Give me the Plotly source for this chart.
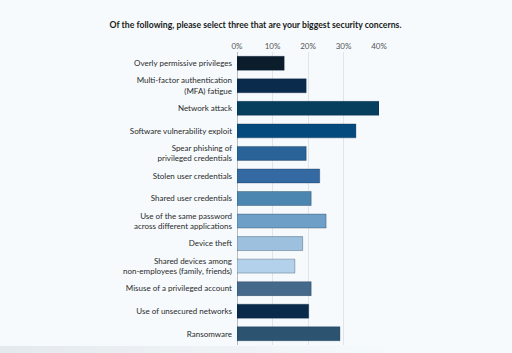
import plotly.graph_objects as go

categories = [
    "Overly permissive privileges",
    "Multi-factor authentication<br>(MFA) fatigue",
    "Network attack",
    "Software vulnerability exploit",
    "Spear phishing of<br>privileged credentials",
    "Stolen user credentials",
    "Shared user credentials",
    "Use of the same password<br>across different applications",
    "Device theft",
    "Shared devices among<br>non-employees (family, friends)",
    "Misuse of a privileged account",
    "Use of unsecured networks",
    "Ransomware",
]
values = [13.3, 19.5, 40.0, 33.5, 19.5, 23.3, 20.9, 25.1, 18.5, 16.3, 20.9, 20.2, 29.0]
colors = ["#0b1d2b", "#0b2b4d", "#063f5e", "#054a7c", "#2a6398", "#3469a1", "#4a86b0",
          "#6e9fc7", "#9cc0de", "#b3d1ea", "#44698a", "#092a4a", "#2c5471"]
tick_vals = [0, 10, 20, 30, 40]
tick_text = ["0%", "10%", "20%", "30%", "40%"]
title_text = "Of the following, please select three that are your biggest security concerns."

bg = "#f6fafd"

fig = go.Figure(go.Bar(
    x=values, y=categories, orientation="h",
    marker=dict(color=colors, line=dict(width=0.6, color="rgba(0,30,60,0.5)")),
    hoverinfo="x+y",
))

fig.update_layout(
    width=512, height=353,
    margin=dict(l=237, r=133, t=52, b=8),
    paper_bgcolor=bg, plot_bgcolor=bg,
    bargap=0.38,
    showlegend=False,
    font=dict(family="Lato, Open Sans, sans-serif", size=8, color="#333333"),
    title=dict(text="<b>" + title_text + "</b>", x=0.5 * (106 + 405) / 512, xanchor="center",
               xref="container",
               y=1 - 25 / 353, yanchor="middle",
               font=dict(size=8.7, color="#1a1a1a")),
    xaxis=dict(range=[0, 40], side="top", tickvals=tick_vals, ticktext=tick_text,
               showgrid=True, gridcolor="#e1e5ea", gridwidth=1,
               zeroline=True, zerolinecolor="#b8bcc0", zerolinewidth=1,
               tickfont=dict(size=8, color="#555555"), ticks="", fixedrange=True),
    yaxis=dict(autorange="reversed", ticks="", showgrid=False, ticklabelstandoff=4,
               tickfont=dict(size=8, color="#2a2a2a"), fixedrange=True),
)

# faint shadow band at the very bottom, fading to the right
n = 24
for i in range(n):
    a = i / n * 0.75
    b = (i + 1) / n * 0.75
    alpha = 0.09 * (1 - i / n)
    fig.add_shape(type="rect", xref="paper", yref="paper",
                  x0=(a * 512 - 237) / 142, x1=(b * 512 - 237) / 142,
                  y0=-8 / 293, y1=-1 / 293, fillcolor=f"rgba(60,70,80,{alpha:.3f})",
                  line=dict(width=0), layer="below")

fig.write_html("out.html")
